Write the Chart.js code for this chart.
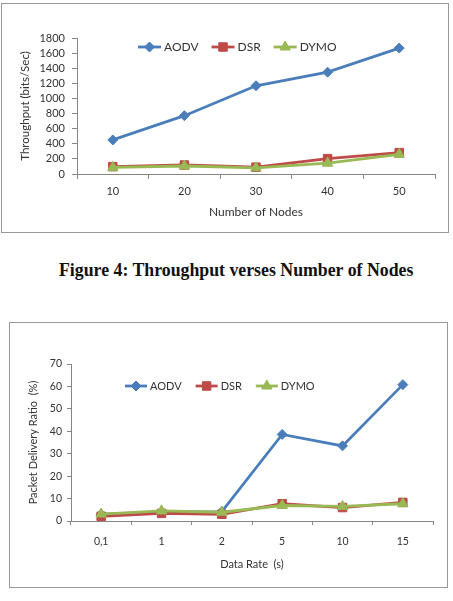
<!DOCTYPE html>
<html>
  <head>
    <script src="https://cdn.jsdelivr.net/npm/chart.js@4"></script>
    <style>
      body { margin: 0; background: #fff; width: 453px; height: 601px; position: relative; overflow: hidden; }
      .frame { position: absolute; box-sizing: border-box; border: 1px solid #999; }
      canvas { position: absolute; left: 0; }
      #caption {
        position: absolute; left: 59px; top: 262px; white-space: nowrap;
        font: bold 17.8px "Liberation Serif", "Times New Roman", serif; line-height: 1; color: #111;
      }
    </style>
  </head>

  <body>
    <div class="frame" style="left:1px; top:3px; width:448px; height:230px"></div>
    <div class="frame" style="left:9px; top:322px; width:439px; height:266px"></div>
    <canvas id="throughput" width="453" height="240" style="top:0"></canvas>
    <div id="caption">Figure 4: Throughput verses Number of Nodes</div>
    <canvas id="pdr" width="453" height="275" style="top:320px"></canvas>
    <script>
      // figure 4 - throughput vs number of nodes
      const nodes = ['10', '20', '30', '40', '50'];
      const tpAodv = [451, 772, 1168, 1348, 1666];
      const tpDsr = [97, 119, 90, 203, 283];
      const tpDymo = [87, 106, 82, 143, 260];
      const tpTicks = [0, 200, 400, 600, 800, 1000, 1200, 1400, 1600, 1800];

      // packet delivery ratio vs data rate
      const rates = ['0,1', '1', '2', '5', '10', '15'];
      const pdrAodv = [3, 4, 4.2, 38.6, 33.5, 60.8];
      const pdrDsr = [2.1, 3.4, 3, 7.7, 6, 8.3];
      const pdrDymo = [3.1, 4.5, 3.9, 6.9, 6.5, 7.7];
      const pdrTicks = [0, 10, 20, 30, 40, 50, 60, 70];

      const names = ['AODV', 'DSR', 'DYMO'];
      const colors = ['#4a7ebb', '#be4b48', '#98b954'];
      const styles = ['rectRot', 'rect', 'triangle'];
      const radii = [5, 6, 6];

      const axisGrey = '#868686';
      const textGrey = '#333';

      const drawMarker = (ctx, style, x, y, r, col) => {
        ctx.fillStyle = col;
        ctx.strokeStyle = col;
        ctx.lineWidth = 1;
        if (Chart.helpers && Chart.helpers.drawPoint) {
          Chart.helpers.drawPoint(ctx, { pointStyle: style, radius: r, borderWidth: 1 }, x, y);
          return;
        }
        ctx.beginPath();
        ctx.arc(x, y, r, 0, Math.PI * 2);
        ctx.fill();
      };

      // excel style legend drawn inside the plot area
      const inlineLegend = {
        id: 'inlineLegend',
        afterDraw(chart, args, opts) {
          const ctx = chart.ctx;
          let x = opts.x;
          const y = opts.y;
          ctx.save();
          ctx.font = opts.font;
          ctx.textBaseline = 'middle';
          ctx.textAlign = 'left';
          chart.data.datasets.forEach((ds) => {
            ctx.strokeStyle = ds.borderColor;
            ctx.lineWidth = ds.borderWidth;
            ctx.beginPath();
            ctx.moveTo(x, y);
            ctx.lineTo(x + opts.lineLen, y);
            ctx.stroke();
            drawMarker(ctx, ds.pointStyle, x + opts.lineLen / 2, y, ds.pointRadius, ds.backgroundColor);
            x += opts.lineLen + opts.textGap;
            ctx.fillStyle = textGrey;
            ctx.fillText(ds.label, x, y);
            x += ctx.measureText(ds.label).width + opts.itemGap;
          });
          ctx.restore();
        },
      };

      const makeSets = (series) =>
        series.map((data, i) => ({
          label: names[i],
          data,
          borderColor: colors[i],
          backgroundColor: colors[i],
          pointBackgroundColor: colors[i],
          pointBorderColor: colors[i],
          borderWidth: 2.8,
          pointStyle: styles[i],
          pointRadius: radii[i],
          pointBorderWidth: 1,
          tension: 0,
          order: 3 - i,
        }));

      const makeChart = (id, labels, series, yTicks, cfg) =>
        new Chart(document.getElementById(id), {
          type: 'line',
          data: { labels, datasets: makeSets(series) },
          plugins: [inlineLegend],
          options: {
            responsive: false,
            animation: false,
            events: [],
            layout: { padding: { left: 0, top: cfg.top, right: cfg.right, bottom: 0 } },
            plugins: {
              legend: { display: false },
              tooltip: { enabled: false },
              inlineLegend: cfg.legend,
            },
            scales: {
              x: {
                type: 'category',
                offset: true,
                afterFit: (s) => { s.height = cfg.xHeight; },
                grid: {
                  offset: true,
                  drawOnChartArea: false,
                  drawTicks: true,
                  tickLength: cfg.tickLen,
                  color: axisGrey,
                },
                border: { display: true, color: axisGrey, width: 1 },
                ticks: {
                  color: textGrey,
                  padding: cfg.xPad,
                  maxRotation: 0,
                  autoSkip: false,
                  font: { family: 'Lato', size: cfg.tickSize },
                },
                title: {
                  display: true,
                  text: cfg.xTitle,
                  color: textGrey,
                  padding: { top: 0, bottom: cfg.xTitlePad },
                  font: { family: 'Lato', size: cfg.titleSize },
                },
              },
              y: {
                min: yTicks[0],
                max: yTicks[yTicks.length - 1],
                afterFit: (s) => { s.width = cfg.yWidth; },
                afterBuildTicks: (s) => { s.ticks = yTicks.map((v) => ({ value: v })); },
                grid: {
                  drawOnChartArea: false,
                  drawTicks: true,
                  tickLength: cfg.tickLen,
                  color: axisGrey,
                },
                border: { display: true, color: axisGrey, width: 1 },
                ticks: {
                  color: textGrey,
                  padding: cfg.yPad,
                  autoSkip: false,
                  callback: (v) => String(v),
                  font: { family: 'Lato', size: cfg.tickSize },
                },
                title: {
                  display: true,
                  text: cfg.yTitle,
                  color: textGrey,
                  padding: { top: cfg.yTitlePad, bottom: 0 },
                  font: { family: 'Lato', size: cfg.yTitleSize },
                },
              },
            },
          },
        });

      makeChart('throughput', nodes, [tpAodv, tpDsr, tpDymo], tpTicks, {
        top: 38, right: 18, xHeight: 66, yWidth: 77,
        tickLen: 5, xPad: 6, yPad: 7, tickSize: 11,
        xTitle: 'Number of Nodes', xTitlePad: 20.8, titleSize: 12,
        yTitle: 'Throughput (bits/Sec)', yTitlePad: 18, yTitleSize: 11.5,
        legend: { x: 138, y: 47, lineLen: 23, textGap: 3, itemGap: 13, font: '12px Lato' },
      });

      makeChart('pdr', rates, [pdrAodv, pdrDsr, pdrDymo], pdrTicks, {
        top: 44, right: 20, xHeight: 74, yWidth: 71,
        tickLen: 4, xPad: 10, yPad: 5, tickSize: 10.5,
        xTitle: 'Data Rate  (s)', xTitlePad: 23.5, titleSize: 11,
        yTitle: 'Packet Delivery Ratio  (%)', yTitlePad: 26.4, yTitleSize: 11,
        legend: { x: 125, y: 66, lineLen: 22, textGap: 3, itemGap: 14, font: '11px Lato' },
      });
    </script>
  </body>
</html>
